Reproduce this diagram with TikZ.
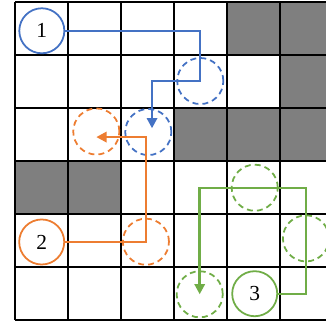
\documentclass[tikz,border=0pt]{standalone}
\usepackage{fontspec}
\setmainfont{Liberation Serif}
\usetikzlibrary{arrows.meta}
\definecolor{pathblue}{HTML}{4472C4}
\definecolor{pathorange}{HTML}{ED7D31}
\definecolor{pathgreen}{HTML}{70AD47}
\definecolor{wallgray}{HTML}{7F7F7F}
\begin{document}
\begin{tikzpicture}[>={Triangle[length=5.5pt,width=5.5pt]},
	robot/.style={circle, line width=0.95pt, fill=white, minimum size=0.85cm, inner sep=0pt, font=\fontsize{11.5}{13}\selectfont},
	ghost/.style={circle, line width=0.95pt, dash pattern=on 3.2pt off 2.2pt, minimum size=0.87cm, inner sep=0pt},
	route/.style={line width=1.3pt, ->}]
	% Khung hình: cắt bớt cột cuối
	\clip (-0.283,-0.038) rectangle (5.868,6.038);
	
	% Các ô bị chặn
	\foreach \c/\r in {4/5, 5/5, 5/4, 3/3, 4/3, 5/3, 0/2, 1/2}
	\fill[wallgray] (\c,\r) rectangle ++(1,1);
	
	% Lưới 6x6
	\draw[line width=0.9pt] (0,0) grid (6,6);
	
	% Robot 1, 2, 3
	\node[robot, draw=pathblue] (r1) at (0.506,5.457) {1};
	\node[robot, draw=pathorange] (r2) at (0.504,1.472) {2};
	\node[robot, draw=pathgreen] (r3) at (4.523,0.496) {3};
	
	% Vị trí tạm thời (nét đứt)
	\node[ghost, draw=pathblue] (b1) at (3.496,4.509) {};
	\node[ghost, draw=pathblue] (b2) at (2.515,3.547) {};
	\node[ghost, draw=pathorange] (o1) at (1.534,3.557) {};
	\node[ghost, draw=pathorange] (o2) at (2.47,1.477) {};
	\node[ghost, draw=pathgreen] (g1) at (4.523,2.496) {};
	\node[ghost, draw=pathgreen] (g2) at (5.49,1.54) {};
	\node[ghost, draw=pathgreen] (g3) at (3.485,0.485) {};
	
	% Đường đi của từng robot
	\draw[route, pathblue, shorten >=2pt] (r1.east) -| (b1.center) -| ([xshift=2pt]b2.center);
	\draw[route, pathorange] (r2.east) -| ([yshift=-3pt]o1.center -| o2.center) -- ([yshift=-3pt]o1.center);
	\draw[route, pathgreen] (r3.east) -| (g2.center |- g1.center) -| (g3.center);
	
\end{tikzpicture}
\end{document}
